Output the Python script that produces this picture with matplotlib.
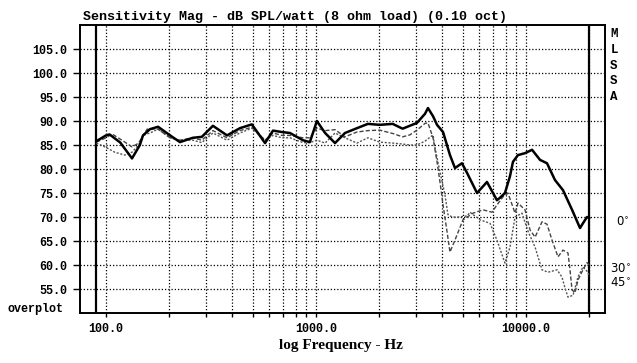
import matplotlib
matplotlib.use("Agg")
import matplotlib.pyplot as plt
from matplotlib.ticker import FixedLocator, NullLocator, NullFormatter

# ---------------- data ----------------
freq_0 = [90, 100, 104, 117, 133, 145, 150, 162, 177, 202, 225, 259, 286, 323, 377,
          434, 495, 572, 624, 688, 752, 866, 935, 1010, 1105, 1232, 1374, 1566, 1767,
          2011, 2318, 2585, 2796, 3025, 3304, 3414, 3608, 3770, 4027, 4345, 4590, 4955,
          5237, 5845, 6520, 7270, 7515, 7940, 8390, 8670, 9160, 9890, 10690, 11660,
          12590, 13740, 15000, 16570, 18080, 18680, 19510, 20000]
spl_0 = [85.8, 87.0, 87.2, 85.5, 82.2, 85.0, 87.0, 88.3, 88.8, 87.0, 85.6, 86.5, 86.7,
         89.0, 87.0, 88.5, 89.3, 85.4, 88.0, 87.7, 87.5, 86.0, 85.6, 90.0, 87.5, 85.4,
         87.5, 88.5, 89.4, 89.2, 89.4, 88.4, 89.0, 89.6, 91.5, 92.7, 91.0, 89.2, 87.7,
         82.9, 80.2, 81.2, 79.2, 75.0, 77.3, 73.5, 74.0, 75.0, 78.5, 81.5, 82.9, 83.3,
         84.0, 81.9, 81.2, 77.7, 75.6, 71.5, 67.7, 68.7, 70.0, 69.8]

freq_30 = [90, 100, 107, 123, 133, 143, 148, 157, 177, 202, 225, 259, 286, 323, 377,
           434, 495, 572, 624, 688, 752, 866, 935, 1010, 1105, 1232, 1374, 1566, 1767,
           2011, 2318, 2585, 2796, 3025, 3304, 3414, 3608, 3770, 3894, 4027, 4205, 4345,
           4590, 5010, 5592, 6240, 6890, 7270, 7770, 8205, 8870, 9160, 9890, 10450,
           11050, 11920, 12590, 13300, 14200, 15000, 15850, 16200, 16570, 17110, 17690,
           18680, 19510, 20000]
spl_30 = [85.6, 86.5, 87.3, 85.6, 84.6, 85.4, 86.5, 88.3, 88.3, 86.5, 86.0, 86.5, 86.0,
          88.0, 86.5, 88.0, 88.7, 86.0, 87.5, 87.0, 87.0, 86.5, 86.5, 88.5, 88.0, 88.2,
          86.7, 87.7, 88.0, 88.1, 87.4, 86.7, 87.1, 88.1, 89.5, 89.6, 86.5, 81.5, 77.3,
          72.5, 67.0, 62.7, 65.2, 69.4, 70.8, 71.5, 71.0, 72.5, 74.2, 75.0, 70.8, 72.9,
          71.5, 67.3, 65.8, 69.0, 68.5, 65.2, 61.7, 63.1, 62.5, 59.0, 54.8, 54.2, 56.9,
          59.0, 60.5, 60.0]

freq_45 = [90, 100, 110, 123, 133, 143, 150, 162, 177, 202, 225, 259, 286, 323, 377,
           434, 495, 572, 624, 688, 752, 866, 935, 1010, 1105, 1232, 1374, 1566, 1767,
           2011, 2318, 2585, 2796, 3025, 3304, 3608, 3688, 3894, 4113, 4250, 4442, 4744,
           5237, 5411, 6040, 6740, 7270, 7940, 8390, 8870, 9570, 10230, 11050, 11920,
           12740, 14060, 14830, 15340, 15850, 16750, 17690, 18680, 19720, 20000]
spl_45 = [85.4, 84.5, 83.5, 82.9, 83.5, 85.0, 87.0, 87.5, 88.3, 86.5, 86.0, 86.0, 85.5,
          87.5, 86.0, 87.5, 88.5, 86.0, 87.0, 86.5, 86.5, 85.5, 85.5, 86.0, 85.4, 87.5,
          86.5, 85.4, 86.5, 85.6, 85.4, 85.2, 85.0, 85.0, 85.8, 87.1, 84.4, 79.4, 74.6,
          70.5, 70.0, 70.0, 70.2, 71.0, 69.4, 68.7, 65.2, 60.4, 63.7, 70.0, 70.8, 67.0,
          63.7, 59.0, 58.5, 59.0, 57.5, 55.2, 53.3, 53.7, 57.5, 59.6, 58.5, 57.5]

y_ticks = [55, 60, 65, 70, 75, 80, 85, 90, 95, 100, 105]
x_grid = [100, 200, 300, 400, 500, 600, 700, 800, 900,
          1000, 2000, 3000, 4000, 5000, 6000, 7000, 8000, 9000, 10000, 20000]
x_labels = {100: "100.0", 1000: "1000.0", 10000: "10000.0"}
marker_freqs = [90, 20000]

title = "Sensitivity Mag - dB SPL/watt (8 ohm load) (0.10 oct)"
xlabel = "log Frequency - Hz"
angle_labels = [("0", 222, 616), ("30", 269, 610), ("45", 283, 610)]

# ---------------- figure ----------------
W, H = 637, 363
fig = plt.figure(figsize=(W / 100, H / 100), dpi=100)
ax = fig.add_axes([80 / W, 1 - 313 / H, 525 / W, 288 / H])

ax.set_xscale("log")
ax.set_xlim(75.2, 23780)
ax.set_ylim(50, 110)

mono = "Liberation Mono"

# grid
dot = (0, (1, 1.6))
for f in x_grid:
    ax.axvline(f, color="black", lw=0.9, ls=dot, zorder=1)
for y in y_ticks:
    ax.axhline(y, color="black", lw=0.9, ls=dot, zorder=1)
for f in marker_freqs:
    ax.axvline(f, color="black", lw=1.6, zorder=2)

# curves
ax.plot(freq_45, spl_45, color="#555555", lw=1.0, ls=(0, (1.5, 1.2)), zorder=3)
ax.plot(freq_30, spl_30, color="#444444", lw=1.0, ls=(0, (3, 1.5)), zorder=3)
ax.plot(freq_0, spl_0, color="black", lw=1.8, zorder=4)

# ticks
ax.xaxis.set_major_locator(FixedLocator(x_grid))
ax.xaxis.set_minor_locator(NullLocator())
ax.xaxis.set_minor_formatter(NullFormatter())
ax.set_xticklabels([x_labels.get(f, "") for f in x_grid],
                   fontfamily=mono, fontweight="bold", fontsize=8.5)
ax.set_yticks(y_ticks)
ax.set_yticklabels(["%.1f" % v for v in y_ticks],
                   fontfamily=mono, fontweight="bold", fontsize=8.5)
ax.tick_params(axis="x", length=3, width=1, pad=4)
ax.tick_params(axis="y", length=5, width=1, pad=4)

for s in ax.spines.values():
    s.set_linewidth(1.4)

# texts
fig.text(83 / W, 1 - 17 / H, title, fontfamily=mono, fontweight="bold",
         fontsize=9.6, ha="left", va="center")
fig.text(341 / W, 1 - 346 / H, xlabel, fontfamily="Liberation Serif",
         fontweight="bold", fontsize=11, ha="center", va="center")
fig.text(36 / W, 1 - 309 / H, "overplot", fontfamily=mono, fontweight="bold",
         fontsize=8.5, ha="center", va="center")
for i, ch in enumerate("MLSSA"):
    fig.text(614 / W, 1 - (34 + i * 15.8) / H, ch, fontfamily=mono,
             fontweight="bold", fontsize=9, ha="center", va="center")
for lab, ypx, xpx in angle_labels:
    fig.text(xpx / W, 1 - ypx / H, lab + "$^{\\circ}$", fontfamily="DejaVu Sans",
             fontsize=8.5, ha="left", va="center")

fig.savefig("out.png", dpi=100)
